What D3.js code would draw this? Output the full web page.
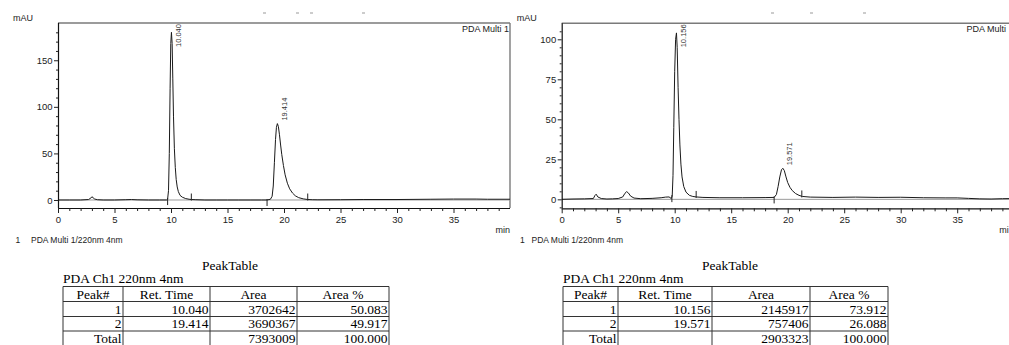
<!DOCTYPE html>
<html><head><meta charset="utf-8">
<script src="https://cdn.jsdelivr.net/npm/d3@7"></script>
<style>body{margin:0;background:#fff}svg{display:block}</style>
</head><body><svg id="c" width="1009" height="345"></svg>
<script>
// ---------- DATA ----------
const xTickValues = [0, 5, 10, 15, 20, 25, 30, 35];
const leftYTicks = [0, 50, 100, 150];
const rightYTicks = [0, 25, 50, 75, 100];

const leftTime = [0, 1, 2, 2.7, 2.9, 3.0, 3.1, 3.25, 3.5, 4, 5, 6, 6.5, 7, 8, 9, 9.6, 9.7, 9.78, 9.85, 9.92, 9.98, 10.04, 10.1, 10.16, 10.22, 10.3, 10.38, 10.46, 10.55, 10.65, 10.8, 11.0, 11.3, 11.6, 11.8, 12.2, 13, 14, 15, 16, 17, 18, 18.5, 18.8, 18.95, 19.05, 19.15, 19.25, 19.33, 19.414, 19.5, 19.6, 19.7, 19.8, 19.95, 20.1, 20.3, 20.5, 20.75, 21.0, 21.3, 21.7, 22.1, 22.5, 23, 25, 27, 30, 33, 35, 37, 38, 40];
const leftSignal = [0, 0, 0, 0.5, 2, 3.5, 2.5, 1, 0.3, 0, 0, 0.3, 0.5, 0.2, 0, 0, 0, 1, 10, 50, 120, 168, 180, 168, 130, 90, 55, 35, 22, 14, 9, 5, 3, 1.5, 0.8, 0.5, 0.3, 0, 0, 0, 0, 0, 0, 0, 0.8, 4, 15, 40, 65, 78, 82, 79, 70, 59, 49, 37, 27, 18, 12, 7.5, 4.5, 2.5, 1.2, 0.5, 0.3, 0.2, 0.3, 0.5, 0.5, 0.8, 1, 1, 0.8, 0.8];

const rightTime = [0, 1, 2, 2.8, 2.95, 3.05, 3.2, 3.5, 4, 4.5, 5, 5.4, 5.6, 5.75, 5.9, 6.1, 6.4, 7, 8, 8.8, 9.2, 9.5, 9.7, 9.78, 9.85, 9.92, 10.0, 10.08, 10.156, 10.22, 10.3, 10.38, 10.46, 10.55, 10.65, 10.8, 11.0, 11.3, 11.6, 11.9, 12.5, 14, 16, 18, 18.8, 19.0, 19.15, 19.3, 19.45, 19.571, 19.7, 19.85, 20.0, 20.2, 20.4, 20.7, 21.0, 21.3, 22, 24, 26, 28, 30, 32, 34, 35, 36, 37, 38, 39, 40];
const rightSignal = [0, 0.2, 0.3, 0.5, 2.5, 3.2, 1.5, 0.5, 0.2, 0.3, 0.5, 1.5, 3.8, 4.8, 4, 2, 0.8, 0.4, 0.6, 1, 1.4, 1.5, 0.5, 2, 15, 45, 80, 100, 104, 95, 70, 50, 34, 22, 14, 8, 4.5, 2.5, 1.8, 1.5, 1.2, 1.0, 1.0, 1.1, 1.2, 3, 8, 14, 18.5, 19.4, 18, 14, 10.5, 7.5, 5.5, 3.6, 2.5, 1.8, 1.4, 1.2, 1.4, 1.2, 1.3, 1.0, 0.9, 0.9, 0.6, 0.3, 0.2, 0.4, 0.5];

const leftPeaks = [10.040, 19.414];
const leftPeakLabels = ["10.040", "19.414"];
const leftPeakStarts = [9.7, 18.5];
const leftPeakEnds = [11.8, 22.1];

const rightPeaks = [10.156, 19.571];
const rightPeakLabels = ["10.156", "19.571"];
const rightPeakStarts = [9.75, 18.8];
const rightPeakEnds = [11.9, 21.25];

const tableHeader = ["Peak#", "Ret. Time", "Area", "Area %"];
const leftRows = [["1", "10.040", "3702642", "50.083"], ["2", "19.414", "3690367", "49.917"], ["Total", "", "7393009", "100.000"]];
const rightRows = [["1", "10.156", "2145917", "73.912"], ["2", "19.571", "757406", "26.088"], ["Total", "", "2903323", "100.000"]];

// ---------- LAYOUT ----------
const svg = d3.select("#c");
const SANS = "'Liberation Sans', Arial, sans-serif";
const SERIF = "'Liberation Serif', 'Times New Roman', serif";

function drawChart(cfg) {
  const g = svg.append("g");
  const x = d3.scaleLinear().domain([0, 40]).range([cfg.x0, cfg.x1]);
  const y = d3.scaleLinear().domain(cfg.yDomain).range([cfg.yBottom, cfg.yTop]);

  const clipId = "clip" + cfg.id;
  svg.append("clipPath").attr("id", clipId).append("rect")
    .attr("x", cfg.x0).attr("y", cfg.yTop).attr("width", cfg.x1 - cfg.x0).attr("height", cfg.yBottom - cfg.yTop);

  // frame top & right
  g.append("line").attr("x1", cfg.x0).attr("x2", cfg.x1).attr("y1", cfg.yTop).attr("y2", cfg.yTop)
    .attr("stroke", "#7a7a7a").attr("stroke-width", 1.4);
  g.append("line").attr("x1", cfg.x1).attr("x2", cfg.x1).attr("y1", cfg.yTop).attr("y2", cfg.yBottom)
    .attr("stroke", "#7a7a7a").attr("stroke-width", 1.4);

  // zero line
  g.append("line").attr("x1", cfg.x0).attr("x2", cfg.x1).attr("y1", y(0)).attr("y2", y(0))
    .attr("stroke", "#9a9a9a").attr("stroke-width", 1);

  // trace
  const pts = cfg.time.map((t, i) => [t, cfg.signal[i]]);
  g.append("path").datum(pts).attr("clip-path", `url(#${clipId})`)
    .attr("fill", "none").attr("stroke", "#1a1a1a").attr("stroke-width", 1)
    .attr("d", d3.line().x(d => x(d[0])).y(d => y(d[1])));

  // integration markers
  const baseAt = t => d3.bisector(d => d[0]).center(pts, t);
  cfg.starts.forEach(t => {
    const yy = y(pts[baseAt(t)][1]);
    g.append("line").attr("x1", x(t)).attr("x2", x(t)).attr("y1", yy - 1).attr("y2", yy + 6)
      .attr("stroke", "#222").attr("stroke-width", 1);
  });
  cfg.ends.forEach(t => {
    const yy = y(pts[baseAt(t)][1]);
    g.append("line").attr("x1", x(t)).attr("x2", x(t)).attr("y1", yy - 6).attr("y2", yy + 1)
      .attr("stroke", "#222").attr("stroke-width", 1);
  });

  // peak labels
  cfg.peaks.forEach((t, i) => {
    const apex = y(pts[baseAt(t)][1]);
    const ly = Math.max(apex - 3, cfg.yTop + 24);
    g.append("text").attr("transform", `translate(${x(t) + 9.5},${ly}) rotate(-90)`)
      .attr("font-family", SANS).attr("font-size", 7.5).attr("fill", "#333")
      .text(cfg.peakLabels[i]);
  });

  // x axis
  const xa = g.append("g").attr("transform", `translate(0,${cfg.yBottom})`)
    .call(d3.axisBottom(x).tickValues(xTickValues).tickSize(5).tickSizeOuter(0).tickPadding(3));
  g.append("g").attr("transform", `translate(0,${cfg.yBottom})`)
    .call(d3.axisBottom(x).tickValues(d3.range(1, 40, 1).filter(v => v % 5)).tickSize(3).tickFormat(""))
    .call(s => s.select(".domain").remove());
  xa.select(".domain").attr("stroke", "#111").attr("stroke-width", 1.2).attr("d", `M${cfg.x0},0.5H${cfg.x1}`);

  // y axis
  const ya = g.append("g").attr("transform", `translate(${cfg.x0},0)`)
    .call(d3.axisLeft(y).tickValues(cfg.yTicks).tickSize(4).tickSizeOuter(0).tickPadding(1.5));
  g.append("g").attr("transform", `translate(${cfg.x0},0)`)
    .call(d3.axisLeft(y).tickValues(d3.range(cfg.yMinorStart, cfg.yDomain[1], cfg.yMinorStep).filter(v => !cfg.yTicks.includes(v))).tickSize(2).tickFormat(""))
    .call(s => s.select(".domain").remove());
  ya.select(".domain").attr("stroke", "#111").attr("stroke-width", 1.2).attr("d", `M0.5,${cfg.yBottom}V${cfg.yTop}`);

  g.selectAll(".tick line").attr("stroke", "#222");
  g.selectAll(".tick text").attr("font-family", SANS).attr("font-size", 9.5).attr("fill", "#222");

  // texts
  g.append("text").attr("x", cfg.x0 - 45).attr("y", 20.5).attr("font-family", SANS).attr("font-size", 9).attr("fill", "#222").text("mAU");
  g.append("text").attr("x", cfg.multiX).attr("y", 31.5).attr("text-anchor", "end").attr("font-family", SANS).attr("font-size", 9).attr("fill", "#222").text(cfg.multiText);
  g.append("text").attr("x", cfg.x1 - 14.5).attr("y", 233).attr("font-family", SANS).attr("font-size", 9).attr("fill", "#222").text(cfg.minText);
  g.append("text").attr("x", cfg.legNum).attr("y", 243).attr("font-family", SANS).attr("font-size", 8.5).attr("fill", "#222").text("1");
  g.append("text").attr("x", cfg.legText).attr("y", 243).attr("font-family", SANS).attr("font-size", 8.5).attr("fill", "#222").text("PDA Multi 1/220nm 4nm");

  // small residual marks at top
  cfg.marks.forEach(mx => {
    g.append("line").attr("x1", mx).attr("x2", mx + 3).attr("y1", 13).attr("y2", 13).attr("stroke", "#999").attr("stroke-width", 1);
  });
}

function drawTable(cfg) {
  const g = svg.append("g").attr("font-family", SERIF).attr("font-size", 13.5).attr("fill", "#000");
  const colX = cfg.cols;
  const rowY = [286.5, 301.5, 316.5, 331, 346];
  g.append("text").attr("x", cfg.titleX).attr("y", 270).attr("text-anchor", "middle").text("PeakTable");
  g.append("text").attr("x", colX[0]).attr("y", 282.5).text("PDA Ch1 220nm 4nm");
  // grid
  rowY.forEach(yy => g.append("line").attr("x1", colX[0]).attr("x2", colX[colX.length - 1]).attr("y1", yy).attr("y2", yy).attr("stroke", "#333").attr("stroke-width", 1));
  colX.forEach(xx => g.append("line").attr("x1", xx).attr("x2", xx).attr("y1", rowY[0]).attr("y2", 345).attr("stroke", "#333").attr("stroke-width", 1));
  // header
  g.selectAll(".h").data(tableHeader).join("text")
    .attr("x", (d, i) => (colX[i] + colX[i + 1]) / 2).attr("y", rowY[1] - 3).attr("text-anchor", "middle").text(d => d);
  cfg.rows.forEach((row, r) => {
    g.selectAll(".r" + r).data(row).join("text")
      .attr("x", (d, i) => colX[i + 1] - 1.5).attr("y", rowY[r + 2] - 3).attr("text-anchor", "end").text(d => d);
  });
}

drawChart({ id: "L", x0: 58, x1: 510, yTop: 23, yBottom: 208, yDomain: [-8.6, 190], yTicks: leftYTicks, yMinorStart: 0, yMinorStep: 10,
  time: leftTime, signal: leftSignal, peaks: leftPeaks, peakLabels: leftPeakLabels, starts: leftPeakStarts, ends: leftPeakEnds,
  legNum: 15.5, legText: 31, marks: [263, 296, 310, 362], multiX: 509, multiText: "PDA Multi 1", minText: "min" });
drawChart({ id: "R", x0: 561.7, x1: 1013.7, yTop: 23.3, yBottom: 208.3, yDomain: [-5.6, 110], yTicks: rightYTicks, yMinorStart: -5, yMinorStep: 5,
  time: rightTime, signal: rightSignal, peaks: rightPeaks, peakLabels: rightPeakLabels, starts: rightPeakStarts, ends: rightPeakEnds,
  legNum: 520, legText: 531.5, marks: [771, 810, 863], multiX: 1006, multiText: "PDA Multi", minText: "mi" });
drawTable({ cols: [63, 123, 210, 297, 389], rows: leftRows, titleX: 230 });
drawTable({ cols: [563, 618, 712, 810, 888], rows: rightRows, titleX: 730 });
</script></body></html>
